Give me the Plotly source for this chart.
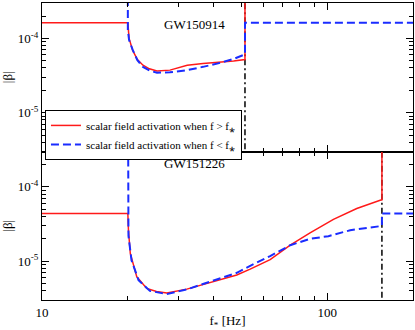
import plotly.graph_objects as go
from plotly.subplots import make_subplots

# data (frequencies in Hz, |beta| values); 1e-2 = off the top of the plot
f_low = 20
cut_150914 = 51.5
cut_151226 = 155.6

f_150914_red = [10, 20, 20.2, 20.8, 21.6, 22.6, 23.8, 25.3, 28.1, 32.3, 36.7, 42.1, 47, 51.5, 51.5]
b_150914_red = [1.63e-4, 1.63e-4, 1.0e-4, 6.9e-5, 5.2e-5, 4.36e-5, 3.9e-5, 3.63e-5, 3.74e-5, 4.36e-5, 4.59e-5, 4.73e-5, 4.95e-5, 5.19e-5, 1e-2]

f_150914_blue = [20, 20, 20.2, 20.8, 21.6, 22.6, 23.8, 25.3, 28.1, 32.3, 36.7, 42.1, 47, 51.5, 51.5, 220]
b_150914_blue = [1e-2, 1.3e-4, 9.5e-5, 7.0e-5, 5.1e-5, 4.14e-5, 3.7e-5, 3.45e-5, 3.49e-5, 3.74e-5, 4.14e-5, 4.68e-5, 5.3e-5, 6.1e-5, 1.63e-4, 1.63e-4]

f_151226_red = [10, 20, 20.1, 20.4, 21.5, 23.3, 25.2, 27.4, 32.2, 39.9, 48.2, 53.7, 63.1, 74.2, 87.1, 105.2, 127, 153.4, 155.6, 155.6]
b_151226_red = [4.39e-5, 4.39e-5, 2.6e-5, 1.27e-5, 6.15e-6, 4.3e-6, 3.9e-6, 3.74e-6, 4.2e-6, 5.26e-6, 6.5e-6, 7.8e-6, 1.05e-5, 1.64e-5, 2.4e-5, 3.65e-5, 5.12e-5, 6.62e-5, 6.7e-5, 1e-2]

f_151226_blue = [20, 20, 20.1, 20.6, 21.8, 23.9, 27.4, 32.2, 39.9, 48.2, 53.7, 63.1, 74.2, 87.1, 101, 120.4, 153.4, 155.6, 155.6, 220]
b_151226_blue = [1e-2, 3.0e-5, 2.2e-5, 1.03e-5, 5.55e-6, 3.98e-6, 3.6e-6, 4.16e-6, 5.43e-6, 6.97e-6, 8.65e-6, 1.17e-5, 1.64e-5, 2.0e-5, 2.17e-5, 2.61e-5, 2.96e-5, 3.0e-5, 4.39e-5, 4.39e-5]

names = ["scalar field activation when f &gt; f⁎",
         "scalar field activation when f &lt; f⁎"]
events = ["GW150914", "GW151226"]

font = "Liberation Serif"
red = "#ff1a1a"
blue = "#1a2cff"

fig = make_subplots(rows=2, cols=1, shared_xaxes=True, vertical_spacing=0)

panels = [
    (1, f_150914_red, b_150914_red, f_150914_blue, b_150914_blue, cut_150914),
    (2, f_151226_red, b_151226_red, f_151226_blue, b_151226_blue, cut_151226),
]
for row, fr, br, fb, bb, cut in panels:
    fig.add_trace(go.Scatter(x=[cut, cut], y=[1e-7, 1e-2], mode="lines",
                             line=dict(color="black", width=1.5, dash="6px,3px,2px,3px"),
                             showlegend=False), row=row, col=1)
    fig.add_trace(go.Scatter(x=fr, y=br, mode="lines", name=names[0],
                             line=dict(color=red, width=1.5),
                             showlegend=(row == 1)), row=row, col=1)
    fig.add_trace(go.Scatter(x=fb, y=bb, mode="lines", name=names[1],
                             line=dict(color=blue, width=2, dash="8px,4px"),
                             showlegend=(row == 1)), row=row, col=1)

# axis ticks
x_minor = [20, 30, 40, 50, 60, 70, 80, 90, 200]
y_minor = [k * 10.0 ** e for e in (-6, -5, -4) for k in range(2, 10)]

axis_common = dict(type="log", showline=True, linecolor="black", linewidth=1,
                   mirror="allticks", ticks="inside", ticklen=7, tickcolor="black",
                   showgrid=False, zeroline=False, automargin=False,
                   tickfont=dict(family=font, size=13, color="black"))

for row in (1, 2):
    fig.update_xaxes(axis_common, range=[1, 2.301], tickvals=[10, 100], ticktext=["10", "100"],
                     minor=dict(tickvals=x_minor, ticks="inside", ticklen=4, tickcolor="black", showgrid=False),
                     row=row, col=1)
    fig.update_yaxes(axis_common, range=[-5.523, -3.523], tickvals=[1e-5, 1e-4],
                     ticktext=["10<sup>-5</sup>", "10<sup>-4</sup>"],
                     minor=dict(tickvals=y_minor, ticks="inside", ticklen=4, tickcolor="black", showgrid=False),
                     title=dict(text="|β|", font=dict(family=font, size=13, color="black"), standoff=2),
                     row=row, col=1)

fig.update_xaxes(showticklabels=False, row=1, col=1)
fig.update_xaxes(title=dict(text="f<sub>*</sub> [Hz]", font=dict(family=font, size=13, color="black"), standoff=0),
                 row=2, col=1)

fig.add_annotation(text=events[0], xref="paper", yref="paper", x=0.41, y=0.96,
                   showarrow=False, font=dict(family=font, size=13, color="black"))
fig.add_annotation(text=events[1], xref="paper", yref="paper", x=0.41, y=0.461,
                   showarrow=False, font=dict(family=font, size=13, color="black"))

fig.update_layout(
    width=415, height=330,
    margin=dict(l=42, r=2, t=3, b=30),
    paper_bgcolor="white", plot_bgcolor="white",
    font=dict(family=font, size=11, color="black"),
    legend=dict(x=0.008, y=0.64, xanchor="left", yanchor="top",
                bgcolor="white", bordercolor="black", borderwidth=1,
                font=dict(family=font, size=11, color="black"),
                itemwidth=30, tracegroupgap=0),
)

fig.write_html("out.html", config={"displayModeBar": False},
               post_script="document.body.style.margin='0px';")
